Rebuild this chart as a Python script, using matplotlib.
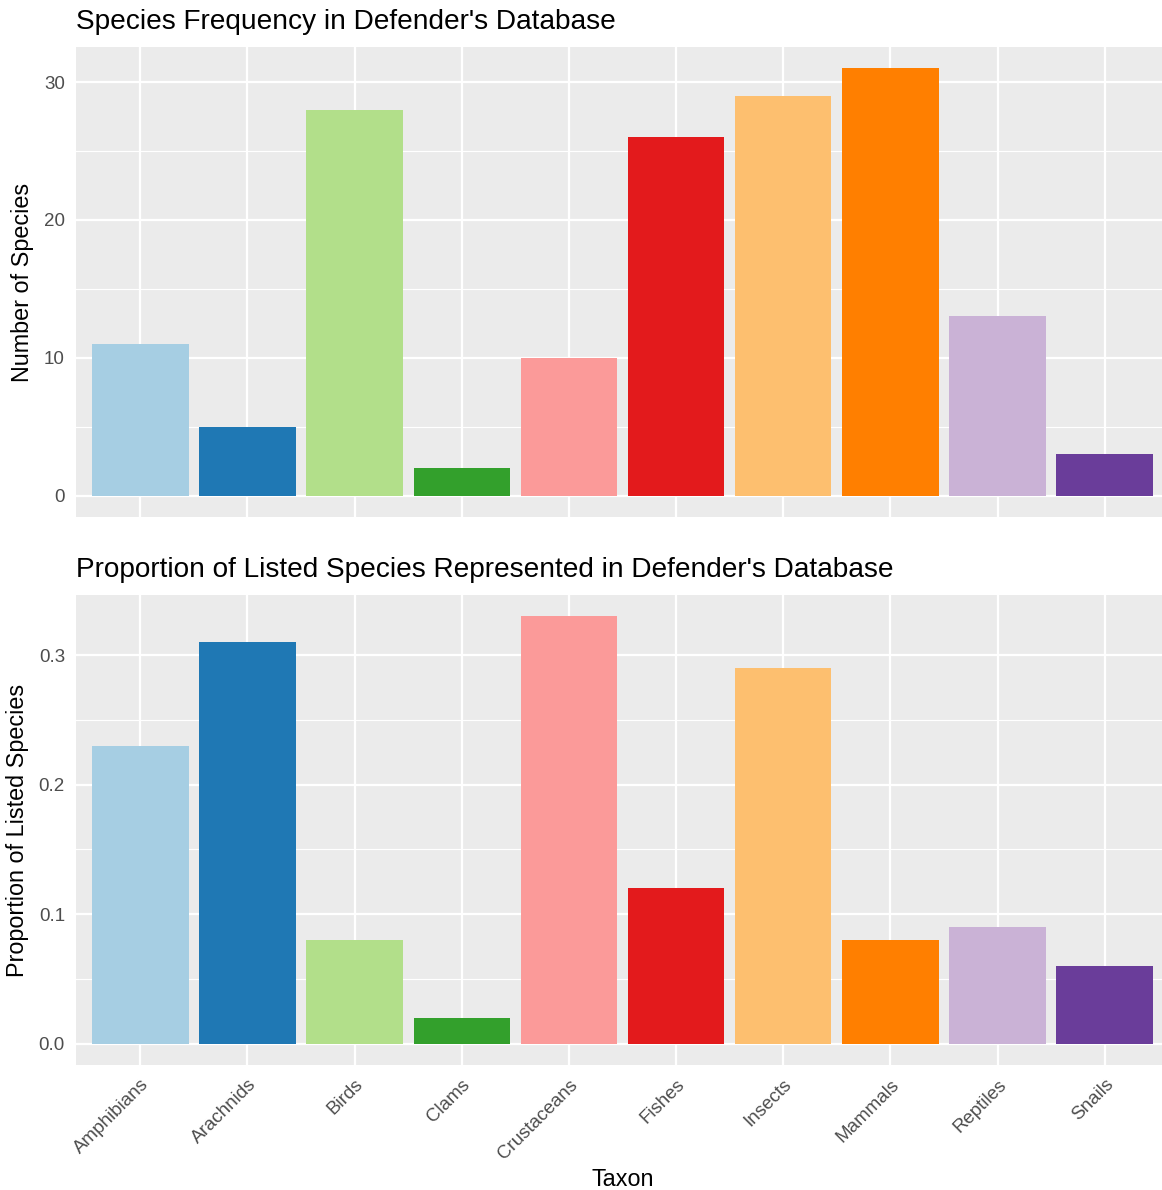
import matplotlib
matplotlib.use("Agg")
import matplotlib.pyplot as plt
from matplotlib.ticker import MultipleLocator

plt.rcParams['font.family'] = ['Liberation Sans', 'DejaVu Sans']

taxa = ["Amphibians", "Arachnids", "Birds", "Clams", "Crustaceans",
        "Fishes", "Insects", "Mammals", "Reptiles", "Snails"]
counts = [11, 5, 28, 2, 10, 26, 29, 31, 13, 3]
proportions = [0.23, 0.31, 0.08, 0.02, 0.33, 0.12, 0.29, 0.08, 0.09, 0.06]
colors = ["#A6CEE3", "#1F78B4", "#B2DF8A", "#33A02C", "#FB9A99",
          "#E31A1C", "#FDBF6F", "#FF7F00", "#CAB2D6", "#6A3D9A"]

W, H = 1162, 1190
fig = plt.figure(figsize=(W / 100, H / 100), dpi=100)

left = 76 / W
width = (1169 - 76) / W
ax1 = fig.add_axes([left, (H - 517) / H, width, 470 / H])
ax2 = fig.add_axes([left, (H - 1065) / H, width, 470 / H])

x = list(range(len(taxa)))


def style(ax, major, minor):
    ax.set_facecolor("#EBEBEB")
    for s in ax.spines.values():
        s.set_visible(False)
    ax.yaxis.set_major_locator(MultipleLocator(major))
    ax.yaxis.set_minor_locator(MultipleLocator(minor))
    ax.set_xticks(x)
    ax.grid(which="major", axis="both", color="white", linewidth=1.6, zorder=0)
    ax.grid(which="minor", axis="y", color="white", linewidth=0.8, zorder=0)
    ax.set_axisbelow(True)
    ax.tick_params(which="both", length=0, labelsize=13.5, labelcolor="#4D4D4D", pad=8)
    ax.set_xlim(-0.6, len(taxa) - 0.4)


ax1.bar(x, counts, width=0.9, color=colors, zorder=2)
style(ax1, 10, 5)
ymax1 = max(counts)
ax1.set_ylim(-0.05 * ymax1, ymax1 * 1.05)
ax1.set_xticklabels([])
ax1.set_ylabel("Number of Species", fontsize=16.8, labelpad=7)
ax1.set_title("Species Frequency in Defender's Database", loc="left",
              fontsize=20.2, pad=13)

ax2.bar(x, proportions, width=0.9, color=colors, zorder=2)
style(ax2, 0.1, 0.05)
ymax2 = max(proportions)
ax2.set_ylim(-0.05 * ymax2, ymax2 * 1.05)
ax2.set_yticks([0.0, 0.1, 0.2, 0.3])
ax2.set_yticklabels(["0.0", "0.1", "0.2", "0.3"])
ax2.set_xticklabels(taxa, rotation=45, ha="right", va="top",
                    rotation_mode="anchor")
ax2.set_ylabel("Proportion of Listed Species", fontsize=16.8, labelpad=7)
ax2.set_xlabel("Taxon", fontsize=16.8, labelpad=4)
ax2.set_title("Proportion of Listed Species Represented in Defender's Database",
              loc="left", fontsize=20.2, pad=13)

fig.savefig("out.png", dpi=100, facecolor="white")
